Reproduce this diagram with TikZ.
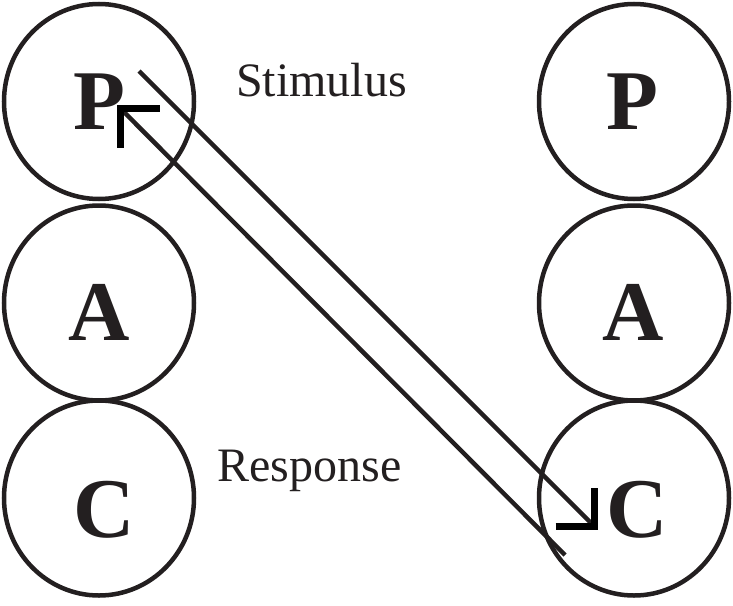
\documentclass[tikz,border=0pt]{standalone}
\usepackage{fontspec}
\setmainfont{Liberation Serif}
\usetikzlibrary{shapes.geometric}
\definecolor{ink}{HTML}{231F20}
\tikzset{
  ring/.style={draw=ink, line width=4.5pt, ellipse, minimum width=190pt, minimum height=195pt, inner sep=0pt},
  letter/.style={anchor=base, inner sep=0pt, font=\fontsize{85}{90}\selectfont\bfseries, text=ink},
  caption/.style={anchor=base, inner sep=0pt, font=\fontsize{48}{52}\selectfont, text=ink},
  conn/.style={draw=ink, line width=4.5pt},
  barb/.style={draw=black, line width=7pt, line join=miter}
}
\begin{document}
\begin{tikzpicture}[x=1pt,y=-1pt]
\useasboundingbox (0,0) rectangle (733,605);
% left column
\node[ring] (P1) at (99,101.5) {};
\node[ring] (A1) at (99,303) {};
\node[ring] (C1) at (99,498) {};
% right column
\node[ring] (P2) at (634,101.5) {};
\node[ring] (A2) at (634,303) {};
\node[ring] (C2) at (634,498) {};
% letters
\node[letter] (tP1) at (99.5,129) {P};
\node[letter] (tA1) at (99,340) {A};
\node[letter] (tC1) at (104.5,537) {C};
\node[letter] (tP2) at (632,129) {P};
\node[letter] (tA2) at (633,340) {A};
\node[letter] (tC2) at (637,537) {C};
% captions
\node[caption] (stim) at (321.5,96.5) {Stimulus};
\node[caption] (resp) at (309.5,481) {Response};
% connector ends
\coordinate (s1) at (139,71);
\coordinate (e1) at (594.5,526.5);
\coordinate (s2) at (565,555);
\coordinate (e2) at (120.5,108.5);
\draw[conn] (s1) -- (e1);
\draw[conn] (s2) -- (e2);
% arrowheads
\draw[barb] (e1) ++(-39,0) -- (e1) -- ++(0,-39);
\draw[barb] (e2) ++(39,0) -- (e2) -- ++(0,39);
\end{tikzpicture}
\end{document}
